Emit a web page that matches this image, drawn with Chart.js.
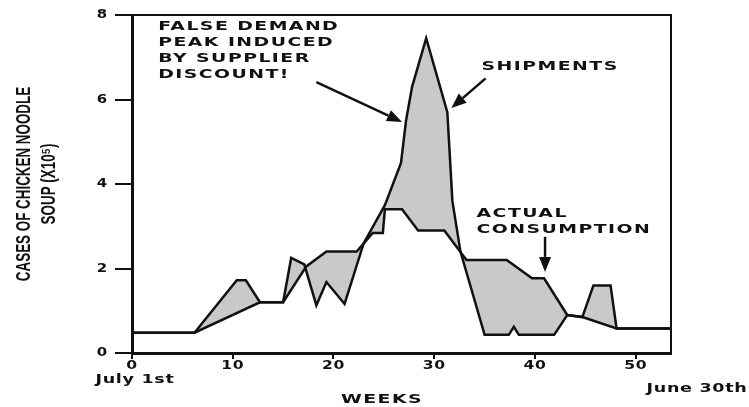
<!DOCTYPE html>
<html>
<head>
<meta charset="utf-8">
<script src="https://cdn.jsdelivr.net/npm/chart.js@4.4.1/dist/chart.umd.min.js"></script>
<style>
  html, body { margin: 0; padding: 0; background: #fff; }
  #wrap { width: 749px; height: 407px; position: relative; }
</style>
</head>
<body>
<div id="wrap"><canvas id="soupChart"></canvas></div>
<script>
        // Data (weeks since July 1st, cases x10^5)
        const shipWeeks = [0, 6.2, 10.4, 11.3, 12.7, 15, 15.8, 17.1, 18.3, 19.3, 21.1, 23.0, 25.1, 26.7, 27.2, 27.8, 29.2, 31.3, 31.8, 32.6, 35, 37.4, 37.9, 38.4, 41.9, 43.2, 44.7, 45.8, 47.5, 48.1, 53.5];
        const shipCases = [0.48, 0.48, 1.72, 1.72, 1.2, 1.2, 2.25, 2.1, 1.13, 1.68, 1.16, 2.6, 3.5, 4.5, 5.5, 6.3, 7.45, 5.7, 3.6, 2.4, 0.43, 0.43, 0.62, 0.43, 0.43, 0.9, 0.85, 1.6, 1.6, 0.58, 0.58];

        const useWeeks = [0, 6.2, 12.7, 15, 17.3, 19.3, 22.3, 23.9, 24.9, 25.1, 26.8, 28.4, 31, 33.2, 37.2, 39.7, 40.9, 43.2, 44.7, 48.1, 53.5];
        const useCases = [0.48, 0.48, 1.2, 1.2, 2.05, 2.4, 2.4, 2.84, 2.84, 3.4, 3.4, 2.9, 2.9, 2.2, 2.2, 1.77, 1.77, 0.9, 0.85, 0.58, 0.58];

        const xTicks = [0, 10, 20, 30, 40, 50];
        const yTicks = [0, 2, 4, 6, 8];

        const yTitle = ['CASES OF CHICKEN NOODLE', 'SOUP (X10\u2075)'];

        // callouts, anchored in data units
        const notes = [
            { lines: ['FALSE DEMAND', 'PEAK INDUCED', 'BY SUPPLIER', 'DISCOUNT!'], week: 2.6, value: 7.72 },
            { lines: ['SHIPMENTS'], week: 34.7, value: 6.77 },
            { lines: ['ACTUAL', 'CONSUMPTION'], week: 34.2, value: 3.31 }
        ];
        const arrows = [
            [18.3, 6.41, 26.8, 5.47],
            [35.1, 6.5, 31.7, 5.8],
            [41, 2.75, 41, 1.92]
        ];

        const ink = '#111';
        const wideFont = 'bold 13px "DejaVu Sans"';

        function wideText(ctx, str, px, py, align, spacing, stretch) {
            ctx.save();
            ctx.translate(px, py);
            ctx.scale(stretch || 1.45, 1);
            ctx.letterSpacing = spacing + 'px';
            ctx.textAlign = align;
            ctx.textBaseline = 'middle';
            ctx.fillText(str, 0, 0);
            ctx.restore();
        }

        function arrow(ctx, x1, y1, x2, y2) {
            const ang = Math.atan2(y2 - y1, x2 - x1);
            const len = 15, half = 6;
            const bx = x2 - len * Math.cos(ang), by = y2 - len * Math.sin(ang);
            ctx.beginPath();
            ctx.moveTo(x1, y1);
            ctx.lineTo(bx, by);
            ctx.stroke();
            ctx.beginPath();
            ctx.moveTo(x2, y2);
            ctx.lineTo(bx + half * Math.sin(ang), by - half * Math.cos(ang));
            ctx.lineTo(bx - half * Math.sin(ang), by + half * Math.cos(ang));
            ctx.closePath();
            ctx.fill();
        }

        const decor = {
            id: 'decor',
            afterDraw(chart) {
                const { ctx, chartArea: a } = chart;
                const x = chart.scales.x, y = chart.scales.y;
                ctx.save();
                ctx.strokeStyle = ink;
                ctx.fillStyle = ink;

                // top and right frame
                ctx.lineWidth = 2;
                ctx.beginPath();
                ctx.moveTo(a.left - 17, a.top);
                ctx.lineTo(a.right, a.top);
                ctx.lineTo(a.right, a.bottom);
                ctx.stroke();

                // y title, condensed
                ctx.font = 'bold 20px "Liberation Sans"';
                ctx.textAlign = 'center';
                ctx.textBaseline = 'middle';
                const midY = (a.top + a.bottom) / 2;
                [24, 49].forEach((cx, i) => {
                    ctx.save();
                    ctx.translate(cx, midY);
                    ctx.rotate(-Math.PI / 2);
                    ctx.scale(0.67, 1);
                    ctx.fillText(yTitle[i], 0, 0);
                    ctx.restore();
                });

                // tick labels, stretched like the original lettering
                ctx.font = wideFont;
                x.ticks.forEach(t => wideText(ctx, String(t.value), x.getPixelForValue(t.value), 366, 'center', 0.5, 1.2));
                y.ticks.forEach(t => wideText(ctx, String(t.value), 102, y.getPixelForValue(t.value), 'center', 0, 1.15));

                // x captions
                wideText(ctx, 'July 1st', x.getPixelForValue(0) + 3, 380, 'center', 0.5, 1.35);
                wideText(ctx, 'June 30th', 697, 389, 'center', 0.5, 1.35);
                wideText(ctx, 'WEEKS', a.left + 250, 400, 'center', 1);

                // callouts
                notes.forEach(n => {
                    const px = x.getPixelForValue(n.week);
                    const py = y.getPixelForValue(n.value);
                    n.lines.forEach((t, i) => wideText(ctx, t, px, py + i * 16, 'left', 1));
                });
                ctx.lineWidth = 2.5;
                arrows.forEach(r => arrow(ctx,
                    x.getPixelForValue(r[0]), y.getPixelForValue(r[1]),
                    x.getPixelForValue(r[2]), y.getPixelForValue(r[3])));
                ctx.restore();
            }
        };

        const ctx = document.getElementById('soupChart').getContext('2d');
        new Chart(ctx, {
            type: 'line',
            data: {
                datasets: [{
                    label: 'Shipments',
                    data: shipWeeks.map((w, i) => ({ x: w, y: shipCases[i] })),
                    borderColor: ink,
                    backgroundColor: '#c9c9c9',
                    fill: '+1',
                    borderWidth: 2.5,
                    pointRadius: 0,
                    tension: 0
                }, {
                    label: 'Actual Consumption',
                    data: useWeeks.map((w, i) => ({ x: w, y: useCases[i] })),
                    borderColor: ink,
                    backgroundColor: 'transparent',
                    fill: false,
                    borderWidth: 2.5,
                    pointRadius: 0,
                    tension: 0
                }]
            },
            options: {
                responsive: true,
                maintainAspectRatio: false,
                animation: false,
                layout: { padding: { left: 0, top: 15, right: 78, bottom: 0 } },
                plugins: {
                    legend: { display: false },
                    tooltip: { enabled: false },
                    filler: { drawTime: 'beforeDatasetsDraw' }
                },
                scales: {
                    x: {
                        type: 'linear',
                        min: 0,
                        max: 53.5,
                        afterBuildTicks: s => { s.ticks = xTicks.map(v => ({ value: v })); },
                        afterFit: s => { s.height = 54; },
                        border: { color: ink, width: 3 },
                        grid: { drawOnChartArea: false, color: ink, lineWidth: 2, tickLength: 6 },
                        ticks: { display: false }
                    },
                    y: {
                        min: 0,
                        max: 8,
                        afterBuildTicks: s => { s.ticks = yTicks.map(v => ({ value: v })); },
                        afterFit: s => { s.width = 132; },
                        border: { color: ink, width: 3 },
                        grid: { drawOnChartArea: false, color: ink, lineWidth: 2, tickLength: 17 },
                        ticks: { display: false }
                    }
                }
            },
            plugins: [decor]
        });
</script>
</body>
</html>
